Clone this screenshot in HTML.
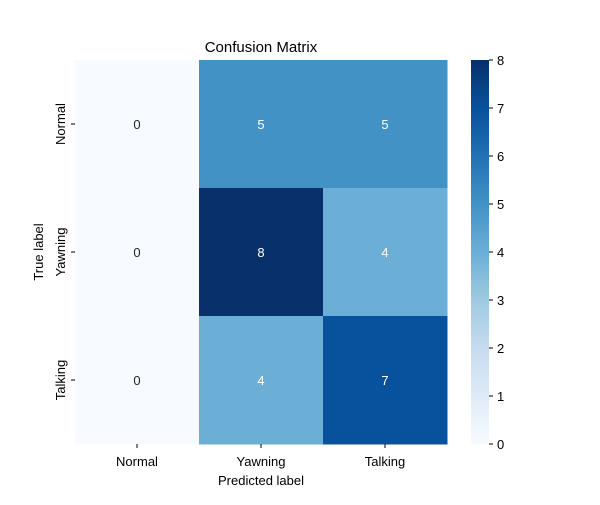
<!DOCTYPE html>
<html><head><meta charset="utf-8"><style>body{margin:0;background:#fff}svg{font-family:"Liberation Sans","DejaVu Sans",sans-serif}</style></head>
<body>
<svg id="c" width="600" height="500" xmlns="http://www.w3.org/2000/svg">
<defs><linearGradient id="g" x1="0" y1="1" x2="0" y2="0">
<stop offset="0" stop-color="#f7fbff"/><stop offset=".125" stop-color="#deebf7"/><stop offset=".25" stop-color="#c6dbef"/><stop offset=".375" stop-color="#9ecae1"/><stop offset=".5" stop-color="#6baed6"/><stop offset=".625" stop-color="#4292c6"/><stop offset=".75" stop-color="#2171b5"/><stop offset=".875" stop-color="#08519c"/><stop offset="1" stop-color="#08306b"/></linearGradient></defs>
<text x="261" y="52" font-size="15" text-anchor="middle">Confusion Matrix</text>
<g id="cells"></g>
<rect x="471" y="60" width="18" height="384" fill="url(#g)"/>
<g id="cb"></g>
<text x="261" y="485" font-size="13" text-anchor="middle">Predicted label</text>
<text transform="translate(43,252) rotate(-90)" font-size="13" text-anchor="middle">True label</text>
</svg>
<script>
const labels=["Normal","Yawning","Talking"];
const matrix=[[0,5,5],[0,8,4],[0,4,7]];
const cbTicks=[0,1,2,3,4,5,6,7,8];
const vmin=0,vmax=8;
const stops=["#f7fbff","#deebf7","#c6dbef","#9ecae1","#6baed6","#4292c6","#2171b5","#08519c","#08306b"];
const NS="http://www.w3.org/2000/svg";
const X0=75,Y0=60,W=372,H=384;
const cw=W/labels.length,ch=H/labels.length;
function hex(h){return[1,3,5].map(i=>parseInt(h.substr(i,2),16))}
function color(v){let t=(v-vmin)/(vmax-vmin)*8;let i=Math.min(7,Math.floor(t)),f=t-i;let a=hex(stops[i]),b=hex(stops[i+1]);return"rgb("+a.map((x,k)=>Math.round(x+(b[k]-x)*f)).join(",")+")"}
function el(t,a,p){const e=document.createElementNS(NS,t);for(const k in a)e.setAttribute(k,a[k]);p.appendChild(e);return e}
const svg=document.getElementById("c"),cells=document.getElementById("cells"),cb=document.getElementById("cb");
matrix.forEach((row,r)=>row.forEach((v,c)=>{
 const rc=el("rect",{x:X0+c*cw,y:Y0+r*ch,width:cw+0.5,height:ch+0.5,fill:color(v)},cells);
 
 
 const t=el("text",{x:X0+(c+.5)*cw,y:Y0+(r+.5)*ch+5,"font-size":13,"text-anchor":"middle",fill:v>=3?"#fff":"#262626"},cells);
 t.textContent=v;
 
 
}));
labels.forEach((l,i)=>{
 const x=X0+(i+.5)*cw;
 el("line",{x1:x,x2:x,y1:Y0+H,y2:Y0+H+4,stroke:"#000"},svg);
 const t=el("text",{x:x,y:Y0+H+22,"font-size":13,"text-anchor":"middle"},svg);t.textContent=l;
 
 
 const y=Y0+(i+.5)*ch;
 el("line",{x1:X0-4,x2:X0,y1:y,y2:y,stroke:"#000"},svg);
 const u=el("text",{transform:"translate("+(X0-10)+","+y+") rotate(-90)","font-size":13,"text-anchor":"middle"},svg);u.textContent=l;
 
 
});
cbTicks.forEach(v=>{
 const y=Y0+H-(v-vmin)/(vmax-vmin)*H;
 el("line",{x1:489,x2:493,y1:y,y2:y,stroke:"#000"},cb);
 const t=el("text",{x:497,y:y+5,"font-size":13},cb);t.textContent=v;
 
 
});
</script>
</body></html>
